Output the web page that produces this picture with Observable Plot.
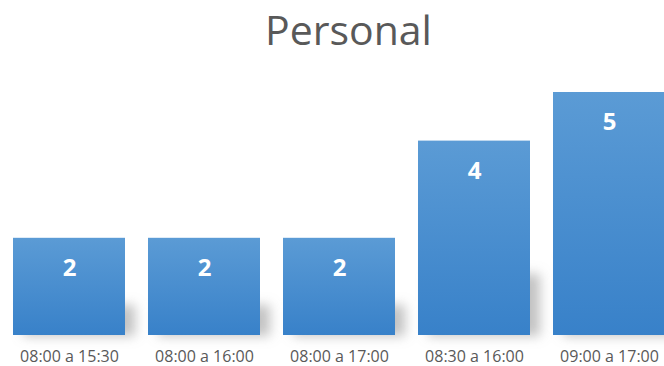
<!DOCTYPE html>
<html>
<head>
<meta charset="utf-8">
<script src="https://cdn.jsdelivr.net/npm/d3@7"></script>
<script src="https://cdn.jsdelivr.net/npm/@observablehq/plot@0.6"></script>
<style>
  html, body { margin: 0; padding: 0; background: #fff; }
</style>
</head>
<body>
<div id="chart"></div>
<script>
const title = "Personal";
const categories = ["08:00 a 15:30", "08:00 a 16:00", "08:00 a 17:00", "08:30 a 16:00", "09:00 a 17:00"];
const values = [2, 2, 2, 4, 5];

const data = categories.map((c, i) => ({category: c, value: values[i]}));

const plot = Plot.plot({
  width: 664,
  height: 366,
  marginTop: 92,
  marginBottom: 31,
  marginLeft: 0,
  marginRight: 0,
  style: {fontFamily: "'Open Sans', sans-serif", background: "#fff"},
  x: {domain: categories, range: [13, 665], paddingInner: 0.1704, paddingOuter: 0, label: null},
  y: {domain: [0, 5], axis: null},
  marks: [
    Plot.barY(data, {x: "category", y1: 0, y2: d => d.value * 0.32, dx: 10, dy: 1, fill: "#9a9a9a", fillOpacity: 0.6}),
    Plot.barY(data, {x: "category", y: "value", fill: "url(#barGrad)"}),
    Plot.text(data, {x: "category", y: "value", text: d => String(d.value), dy: 30, fill: "#ffffff", fontWeight: "bold", fontSize: 24}),
    Plot.axisX({tickSize: 0, tickPadding: 15, fontSize: 16, color: "#595959", fill: "#595959"}),
    Plot.text([title], {frameAnchor: "top", dx: 16, dy: -48, lineAnchor: "bottom", fontSize: 41, fill: "#595959", text: d => d})
  ]
});

const svg = d3.select(plot);
const defs = svg.insert("defs", ":first-child");
const grad = defs.append("linearGradient").attr("id", "barGrad").attr("x1", 0).attr("y1", 0).attr("x2", 0).attr("y2", 1);
grad.append("stop").attr("offset", "0%").attr("stop-color", "#5b9bd5");
grad.append("stop").attr("offset", "100%").attr("stop-color", "#3881c9");
defs.append("filter").attr("id", "shadowBlur").attr("x", "-50%").attr("y", "-50%").attr("width", "200%").attr("height", "200%")
  .append("feGaussianBlur").attr("stdDeviation", 6);
svg.select('g[aria-label="bar"]').attr("filter", "url(#shadowBlur)");

document.getElementById("chart").appendChild(plot);
</script>
</body>
</html>
